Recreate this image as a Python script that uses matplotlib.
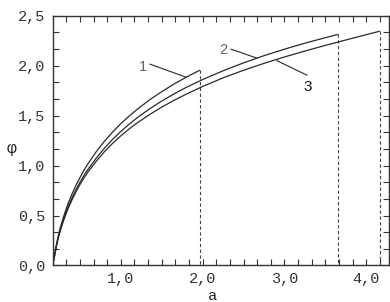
import matplotlib
matplotlib.use("Agg")
import matplotlib.pyplot as plt
from matplotlib.ticker import FixedLocator

# Data
a1 = [0.1667, 0.175, 0.19, 0.21, 0.23, 0.26, 0.30, 0.35, 0.40, 0.45, 0.50, 0.55, 0.60,
      0.70, 0.80, 0.90, 1.00, 1.10, 1.20, 1.35, 1.50, 1.65, 1.80, 1.967]
phi1 = [0.000, 0.040, 0.105, 0.200, 0.280, 0.380, 0.490, 0.610, 0.710, 0.800, 0.880, 0.955, 1.020,
        1.140, 1.244, 1.337, 1.420, 1.495, 1.563, 1.657, 1.740, 1.816, 1.885, 1.955]

a2 = [0.1667, 0.175, 0.19, 0.21, 0.23, 0.26, 0.30, 0.35, 0.40, 0.45, 0.50, 0.55, 0.60,
      0.70, 0.80, 0.90, 1.00, 1.10, 1.20, 1.35, 1.50, 1.65, 1.80, 2.00, 2.25, 2.50,
      2.75, 3.00, 3.25, 3.50, 3.655]
phi2 = [0.000, 0.038, 0.100, 0.190, 0.265, 0.360, 0.465, 0.578, 0.672, 0.757, 0.833, 0.903, 0.965,
        1.075, 1.175, 1.263, 1.342, 1.413, 1.479, 1.567, 1.646, 1.717, 1.783, 1.861, 1.949, 2.028,
        2.100, 2.165, 2.225, 2.280, 2.313]

a3 = [0.1667, 0.175, 0.19, 0.21, 0.23, 0.26, 0.30, 0.35, 0.40, 0.45, 0.50, 0.55, 0.60,
      0.70, 0.80, 0.90, 1.00, 1.10, 1.20, 1.35, 1.50, 1.65, 1.80, 2.00, 2.25, 2.50,
      2.75, 3.00, 3.25, 3.50, 3.75, 4.00, 4.165]
phi3 = [0.000, 0.037, 0.096, 0.185, 0.258, 0.350, 0.450, 0.560, 0.652, 0.735, 0.810, 0.877, 0.938,
        1.044, 1.140, 1.223, 1.298, 1.366, 1.427, 1.510, 1.585, 1.653, 1.715, 1.792, 1.878, 1.954,
        2.023, 2.087, 2.146, 2.203, 2.257, 2.310, 2.345]

curve_labels = ["1", "2", "3"]
label_pos = [(1.27, 1.985), (2.249, 2.155), (3.287, 1.785)]
leader_from = [(1.356, 2.015), (2.347, 2.165), (3.275, 1.905)]
leader_to = [(1.796, 1.885), (2.665, 2.075), (2.908, 2.050)]

xticks_major = [1.0, 2.0, 3.0, 4.0]
xtick_labels = ["1,0", "2,0", "3,0", "4,0"]
yticks_major = [0.0, 0.5, 1.0, 1.5, 2.0, 2.5]
ytick_labels = ["0,0", "0,5", "1,0", "1,5", "2,0", "2,5"]

x_min, x_max = 1/6, 4.284
y_min, y_max = 0.0, 2.5

line_c = "#2a2a2a"
fig = plt.figure(figsize=(3.9, 3.02), dpi=100)
ax = fig.add_axes([0.1351, 0.1209, 0.9987 - 0.1351, 0.948 - 0.1209])

for a, p in [(a1, phi1), (a2, phi2), (a3, phi3)]:
    ax.plot(a, p, color=line_c, lw=0.9, solid_capstyle="butt", solid_joinstyle="round")
    ax.plot([a[-1], a[-1]], [p[-1], 0], color="#444444", lw=0.8, ls=(0, (3, 2.2)))

for lab, pos, f, t in zip(curve_labels, label_pos, leader_from, leader_to):
    ax.plot([f[0], t[0]], [f[1], t[1]], color=line_c, lw=0.8)
    ax.text(pos[0], pos[1], lab, ha="center", va="center",
            fontsize=10.5 if lab != "3" else 11, family="Liberation Sans",
            color="#666666" if lab != "3" else "#111111")

ax.set_xlim(x_min, x_max)
ax.set_ylim(y_min, y_max)
ax.xaxis.set_major_locator(FixedLocator(xticks_major))
ax.set_xticklabels(xtick_labels)
ax.yaxis.set_major_locator(FixedLocator(yticks_major))
ax.set_yticklabels(ytick_labels)
ax.xaxis.set_minor_locator(FixedLocator([k / 6 for k in range(1, 26)]))
ax.yaxis.set_minor_locator(FixedLocator([k / 6 for k in range(0, 16)]))

ax.tick_params(which="both", direction="in", top=True, right=True,
               length=4, width=0.8, color="#333333")
ax.tick_params(which="major", labelsize=11, labelcolor="#333333", pad=5)
for lbl in ax.get_xticklabels() + ax.get_yticklabels():
    lbl.set_family("Liberation Mono")
for s in ax.spines.values():
    s.set_color("#333333")
    s.set_linewidth(1.0)

fig.text(12 / 390, 1 - 149 / 302, "φ", ha="center", va="center",
         fontsize=12, family="Liberation Mono", color="#222222")
fig.text(213 / 390, 1 - 296 / 302, "a", ha="center", va="center",
         fontsize=11, family="Liberation Mono", color="#222222")

fig.savefig("out.png", dpi=100)
